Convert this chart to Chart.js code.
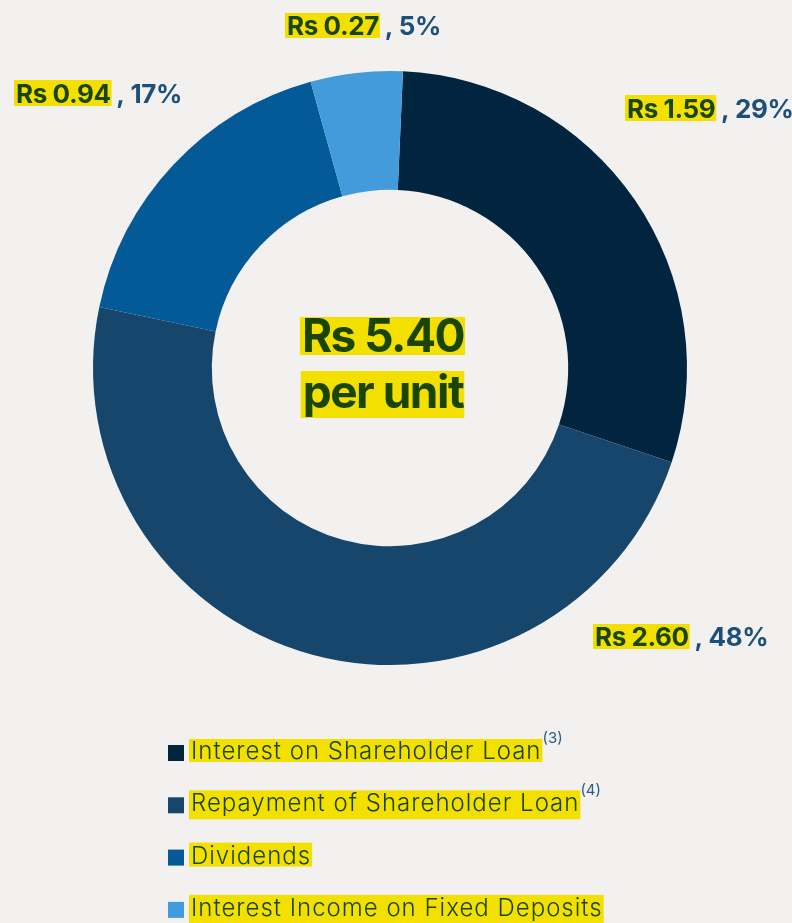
<!DOCTYPE html>
<html>
<head>
<meta charset="utf-8">
<script src="https://cdn.jsdelivr.net/npm/chart.js@4.4.1/dist/chart.umd.min.js"></script>
<style>
  html, body { margin: 0; padding: 0; background: #f2f1ef; }
  #wrap { position: relative; width: 792px; height: 923px; }
</style>
</head>
<body>
<div id="wrap"><canvas id="chart-rs"></canvas></div>
<script>
const categorias = ['Interest on Shareholder Loan', 'Repayment of Shareholder Loan', 'Dividends', 'Interest Income on Fixed Deposits'];
const notas = ['(3)', '(4)', '', ''];
const valores = [1.59, 2.60, 0.94, 0.27];
const cores = ['#01253f', '#17466d', '#045a97', '#439bdb'];

// label placement (left edge of highlight, baseline)
const posLabels = [
  { x: 627, y: 118 },
  { x: 595, y: 646 },
  { x: 16, y: 103 },
  { x: 287, y: 35 }
];

const VERDE = '#1a4500';
const AMARELO = '#f4e000';
const AZUL_TXT = '#1d4f7b';

const total = valores.reduce((a, b) => a + b, 0);

const marcaTexto = (ctx, text, x, y, padTop, padBot) => {
  const m = ctx.measureText(text);
  ctx.fillStyle = AMARELO;
  ctx.fillRect(x - 2, y - m.actualBoundingBoxAscent - padTop, m.width + 3, m.actualBoundingBoxAscent + m.actualBoundingBoxDescent + padTop + padBot);
  ctx.fillStyle = VERDE;
  ctx.fillText(text, x, y);
  return m.width;
};

const rotulos = {
  id: 'rotulos',
  afterDraw(chart) {
    const ctx = chart.ctx;
    ctx.save();
    ctx.textBaseline = 'alphabetic';
    ctx.textAlign = 'left';

    // labels de cada fatia
    valores.forEach((v, i) => {
      const p = posLabels[i];
      ctx.font = 'bold 26px Inter';
      ctx.letterSpacing = '-0.4px';
      const w = marcaTexto(ctx, 'Rs ' + v.toFixed(2), p.x, p.y, 3, 3);
      ctx.fillStyle = AZUL_TXT;
      ctx.fillText(' , ' + Math.round(v / total * 100) + '%', p.x + w, p.y);
    });

    // texto central
    const cx = 383;
    ctx.font = 'bold 46px Inter';
    ctx.letterSpacing = '-1.5px';
    const l1 = 'Rs ' + total.toFixed(2);
    const l2 = 'per unit';
    const w1 = ctx.measureText(l1).width;
    const w2 = ctx.measureText(l2).width;
    marcaTexto(ctx, l1, cx - w1 / 2, 352, 1, 3);
    marcaTexto(ctx, l2, cx - w2 / 2, 408, 2, 1);

    // legenda
    categorias.forEach((c, i) => {
      const y = 759 + i * 52.3;
      ctx.fillStyle = cores[i];
      ctx.fillRect(168, y - 14, 16, 16);
      ctx.font = '300 24px Inter';
      ctx.letterSpacing = '1px';
      const w = marcaTexto(ctx, c, 191, y, 2, 2);
      if (notas[i]) {
        ctx.font = '15px Inter';
        ctx.letterSpacing = '0px';
        ctx.fillStyle = '#2b5b88';
        ctx.fillText(notas[i], 191 + w + 1, y - 16);
      }
    });
    ctx.restore();
  }
};

new Chart(document.getElementById('chart-rs'), {
  type: 'doughnut',
  data: {
    labels: categorias,
    datasets: [{
      data: valores,
      backgroundColor: cores,
      borderWidth: 0
    }]
  },
  options: {
    responsive: true,
    maintainAspectRatio: false,
    animation: false,
    rotation: 2.5,
    cutout: '60%',
    layout: { padding: { left: 93, right: 105, top: 71, bottom: 258 } },
    plugins: {
      legend: { display: false },
      tooltip: { enabled: false }
    }
  },
  plugins: [rotulos]
});
</script>
</body>
</html>
